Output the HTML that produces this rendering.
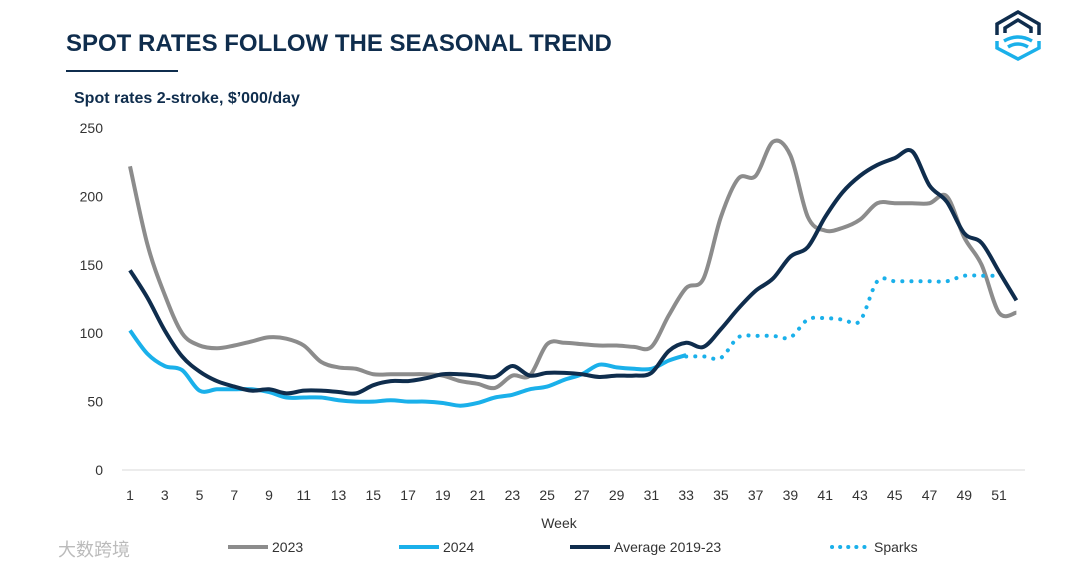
<!DOCTYPE html>
<html><head><meta charset="utf-8"><style>
body{margin:0;background:#fff;width:1080px;height:569px;overflow:hidden;font-family:"Liberation Sans",sans-serif}
</style></head><body>
<svg width="1080" height="569" xmlns="http://www.w3.org/2000/svg">
<text x="66" y="51" font-size="24" font-weight="bold" fill="#0f2d4d">SPOT RATES FOLLOW THE SEASONAL TREND</text>
<line x1="66" y1="71" x2="178" y2="71" stroke="#0f2d4d" stroke-width="2"/>
<text x="74" y="103" font-size="16" font-weight="bold" fill="#0f2d4d">Spot rates 2-stroke, $’000/day</text>
<g fill="none" stroke-width="3.5">
<path d="M997,35 V24 L1018,12 L1039,24 V35" stroke="#0f2d4d"/>
<path d="M1005,33 V28 L1018,20 L1031,28 V33" stroke="#0f2d4d"/>
<path d="M997,41 V48 L1018,59 L1039,48 V41" stroke="#1ab0ea"/>
<path d="M1004,41 Q1018,33 1032,41 M1008,47 Q1018,41 1028,47" stroke="#1ab0ea"/>
</g>
<g id="axes"></g><g id="plot"></g>
<text x="559" y="528" font-size="14" text-anchor="middle" fill="#333">Week</text>
<g font-size="14" fill="#333">
<g><line x1="228" y1="547" x2="268" y2="547" stroke="#8c8c8c" stroke-width="4"/><text x="272" y="552">2023</text></g>
<g><line x1="399" y1="547" x2="439" y2="547" stroke="#1ab0ea" stroke-width="4"/><text x="443" y="552">2024</text></g>
<g><line x1="570" y1="547" x2="610" y2="547" stroke="#0f2d4d" stroke-width="4"/><text x="614" y="552">Average 2019-23</text></g>
<g><line x1="832" y1="547" x2="872" y2="547" stroke="#1ab0ea" stroke-width="4" stroke-dasharray="0.1 8" stroke-linecap="round"/><text x="874" y="552">Sparks</text></g>
</g>
<text x="58" y="556" font-size="18" fill="#bbb" font-family="'Liberation Sans','Noto Sans CJK SC',sans-serif">大数跨境</text>
</svg>
<script>
const weeks=[1,2,3,4,5,6,7,8,9,10,11,12,13,14,15,16,17,18,19,20,21,22,23,24,25,26,27,28,29,30,31,32,33,34,35,36,37,38,39,40,41,42,43,44,45,46,47,48,49,50,51,52];
const yTicks=[0,50,100,150,200,250];
const xTicks=[1,3,5,7,9,11,13,15,17,19,21,23,25,27,29,31,33,35,37,39,41,43,45,47,49,51];
const s2023=[222,165,128,100,91,89,91,94,97,96,91,79,75,74,70,70,70,70,69,65,63,60,69,69,92,93,92,91,91,90,90,113,133,140,185,213,215,240,230,185,175,177,183,195,195,195,195,200,170,150,115,115];
const s2024=[102,85,76,73,58,59,59,59,57,53,53,53,51,50,50,51,50,50,49,47,49,53,55,59,61,66,70,77,75,74,74,80,84];
const sAvg=[146,126,102,83,72,65,61,58,59,56,58,58,57,56,62,65,65,67,70,70,69,68,76,69,71,71,70,68,69,69,71,87,93,90,103,118,131,140,156,163,185,203,215,223,228,233,208,196,173,166,145,124];
const sparkWeeks=[33,34,35,36,37,38,39,40,41,42,43,44,45,46,47,48,49,50,51];
const sSparks=[83,83,82,97,98,98,97,110,111,110,109,138,138,138,138,138,142,142,142];
const X=w=>130+(w-1)*17.38, Y=v=>470-v*1.368;
const NS="http://www.w3.org/2000/svg";
const axes=document.getElementById('axes'),plot=document.getElementById('plot');
function mk(t,a,p){const e=document.createElementNS(NS,t);for(const k in a)e.setAttribute(k,a[k]);p.appendChild(e);return e;}
const base=mk('line',{x1:122,x2:1025,y1:Y(0),y2:Y(0),stroke:'#d9d9d9','stroke-width':1},axes);


yTicks.forEach(v=>{const t=mk('text',{x:103,y:Y(v)+5,'font-size':14,'text-anchor':'end',fill:'#333'},axes);t.textContent=v;

});
xTicks.forEach(w=>{const t=mk('text',{x:X(w),y:500,'font-size':14,'text-anchor':'middle',fill:'#333'},axes);t.textContent=w;

});
function path(ws,vs){const p=ws.map((w,i)=>[X(w),Y(vs[i])]);let d='M'+p[0];for(let i=0;i<p.length-1;i++){const a=p[i-1]||p[i],b=p[i],c=p[i+1],e=p[i+2]||c;
d+=' C'+(b[0]+(c[0]-a[0])/6)+','+(b[1]+(c[1]-a[1])/6)+' '+(c[0]-(e[0]-b[0])/6)+','+(c[1]-(e[1]-b[1])/6)+' '+c;}return d;}
const l1=mk('path',{d:path(weeks,s2023),fill:'none',stroke:'#8c8c8c','stroke-width':4},plot);


const l2=mk('path',{d:path(weeks.slice(0,s2024.length),s2024),fill:'none',stroke:'#1ab0ea','stroke-width':4},plot);


const l4=mk('path',{d:path(sparkWeeks,sSparks),fill:'none',stroke:'#1ab0ea','stroke-width':4,'stroke-dasharray':'0.1 9','stroke-linecap':'round'},plot);


const l3=mk('path',{d:path(weeks,sAvg),fill:'none',stroke:'#0f2d4d','stroke-width':4},plot);


</script>
</body></html>
